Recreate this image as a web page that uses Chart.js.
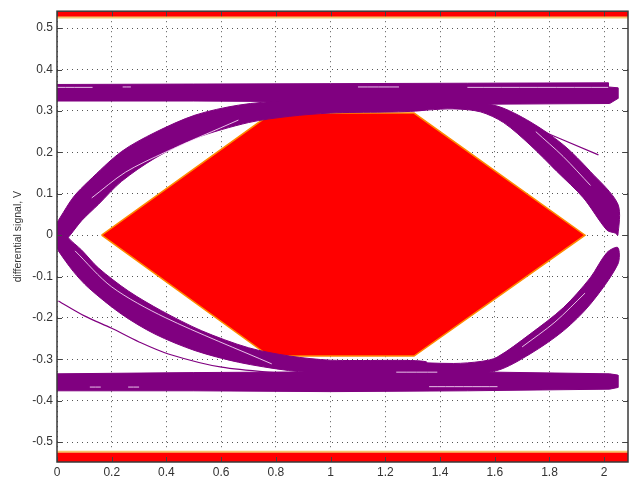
<!DOCTYPE html>
<html>
<head>
<meta charset="utf-8">
<script src="https://cdn.jsdelivr.net/npm/chart.js@4/dist/chart.umd.min.js"></script>
<style>
html,body{margin:0;padding:0;background:#fff;}
canvas{display:block;}
</style>
</head>
<body>
<canvas id="c" width="644" height="480"></canvas>
<script>
// ---- axis ranges and ticks ----
const xRange = [0, 2.087];
const yRange = [-0.548, 0.541];
const xTicks = [0, 0.2, 0.4, 0.6, 0.8, 1, 1.2, 1.4, 1.6, 1.8, 2];
const yTicks = [-0.5, -0.4, -0.3, -0.2, -0.1, 0, 0.1, 0.2, 0.3, 0.4, 0.5];
const yTitle = 'differential signal, V';

// ---- red limit bands (y level of their inner edge) ----
const upperLimit = 0.526;
const lowerLimit = -0.523;

// ---- eye mask (hexagon) ----
const eyeMask = [[0.163,0],[0.785,0.295],[1.305,0.295],[1.93,0],[1.305,-0.292],[0.775,-0.292]];

// ---- purple trace envelopes (outline points) ----
const upperRail = [[0,0.364],[0.5,0.365],[1.0,0.366],[1.5,0.367],[2.015,0.368],[2.015,0.358],[2.05,0.356],[2.05,0.33],[2.02,0.318],[1.5,0.316],[1.0,0.322],[0.5,0.324],[0,0.324]];
const lowerRail = [[0,-0.335],[0.5,-0.332],[1.0,-0.330],[1.5,-0.330],[2.02,-0.335],[2.05,-0.338],[2.05,-0.368],[2.02,-0.372],[1.5,-0.376],[1.0,-0.378],[0.5,-0.376],[0,-0.376]];
const risingLeft = [[0,0.03],[0.011,0.042],[0.06,0.092],[0.115,0.13],[0.236,0.202],[0.358,0.248],[0.505,0.29],[0.663,0.314],[0.845,0.326],[1.0,0.33],[1.2,0.332],
                    [1.35,0.303],[1.0,0.295],[0.85,0.287],[0.7,0.272],[0.505,0.234],[0.358,0.186],[0.236,0.13],[0.151,0.074],[0.09,0.035],[0.048,0.0],[0.02,-0.02],[0,-0.03]];
const fallingLeft = [[0,-0.03],[0.005,-0.038],[0.06,-0.088],[0.115,-0.127],[0.236,-0.191],[0.358,-0.239],[0.505,-0.279],[0.663,-0.307],[0.846,-0.327],[1.0,-0.335],[1.2,-0.336],
                     [1.35,-0.306],[1.0,-0.302],[0.85,-0.292],[0.7,-0.272],[0.529,-0.231],[0.383,-0.183],[0.261,-0.135],[0.151,-0.079],[0.09,-0.036],[0.041,-0.006],[0.02,0.02],[0,0.03]];
const fallingRight = [[1.2,0.332],[1.45,0.326],[1.608,0.312],[1.729,0.274],[1.851,0.218],[1.949,0.154],[2.05,0.075],[2.05,0.0],[2.04,0.005],[2.01,0.012],
                      [1.924,0.09],[1.827,0.154],[1.729,0.218],[1.632,0.272],[1.547,0.298],[1.45,0.305],[1.25,0.303]];
const risingRight = [[1.25,-0.306],[1.45,-0.31],[1.55,-0.305],[1.608,-0.295],[1.729,-0.239],[1.851,-0.175],[1.949,-0.103],[2.01,-0.042],[2.05,-0.03],
                     [2.05,-0.07],[1.949,-0.167],[1.851,-0.231],[1.729,-0.287],[1.608,-0.327],[1.45,-0.336],[1.2,-0.336]];

// ---- single stray traces ----
const strayLeft = [[0.005,-0.159],[0.1,-0.195],[0.2,-0.225],[0.3,-0.258],[0.407,-0.287],[0.602,-0.319],[0.846,-0.335]];
const strayRight = [[1.70,0.272],[1.979,0.194]];

// ---- light gaps between traces ----
const gaps = [
  [[0,0.357],[0.13,0.357]],
  [[0.24,0.358],[0.27,0.358]],
  [[1.10,0.358],[1.25,0.358]],
  [[1.50,0.357],[2.015,0.357]],
  [[0.12,-0.367],[0.16,-0.367]],
  [[0.26,-0.367],[0.30,-0.367]],
  [[1.36,-0.366],[1.61,-0.366]],
  [[1.24,-0.331],[1.39,-0.331]],
  [[0.127,0.09],[0.25,0.152],[0.395,0.2],[0.663,0.278]],
  [[0.066,-0.038],[0.2,-0.125],[0.395,-0.199],[0.785,-0.311]],
  [[1.75,0.25],[1.85,0.19],[1.95,0.12]],
  [[1.70,-0.27],[1.82,-0.21],[1.93,-0.14]]
];

const PURPLE = '#800080';
const toXY = a => a.map(p => ({x: p[0], y: p[1]}));
const closed = a => toXY(a.concat([a[0]]));

const datasets = [];
// limit bands
datasets.push({data: toXY([[xRange[0], upperLimit],[xRange[1], upperLimit]]), fill: 'end',
  backgroundColor: '#ff0000', borderColor: '#f7c56a', borderWidth: 2, order: 10, tension: 0});
datasets.push({data: toXY([[xRange[0], lowerLimit],[xRange[1], lowerLimit]]), fill: 'start',
  backgroundColor: '#ff0000', borderColor: '#f7c56a', borderWidth: 2, order: 10, tension: 0});
// mask
datasets.push({data: closed(eyeMask), fill: 'shape', backgroundColor: '#ff0000',
  borderColor: '#ff8a00', borderWidth: 1.5, order: 9, tension: 0});
// purple envelopes
[upperRail, lowerRail].forEach(poly => {
  datasets.push({data: closed(poly), fill: 'shape', backgroundColor: PURPLE,
    borderColor: PURPLE, borderWidth: 1, order: 5, tension: 0});
});
[risingLeft, fallingLeft, fallingRight, risingRight].forEach(poly => {
  datasets.push({data: closed(poly), fill: 'shape', backgroundColor: PURPLE,
    borderColor: PURPLE, borderWidth: 1, order: 5, tension: 0.3});
});
// stray traces
[strayLeft, strayRight].forEach(line => {
  datasets.push({data: toXY(line), fill: false, borderColor: PURPLE, borderWidth: 1.2, order: 3, tension: 0.3});
});
// gaps
gaps.forEach(line => {
  datasets.push({data: toXY(line), fill: false, borderColor: 'rgba(250,225,250,0.85)', borderWidth: 1, order: 1, tension: 0.3});
});
datasets.forEach(d => { d.showLine = true; d.pointRadius = 0; });

const fmt = v => String(+Number(v).toFixed(2));

const framePlugin = {
  id: 'frame',
  afterDatasetsDraw(chart) {
    const {ctx, chartArea: a, scales} = chart;
    ctx.save();
    ctx.strokeStyle = '#444';
    ctx.lineWidth = 1;
    ctx.beginPath();
    xTicks.forEach(v => {
      const px = Math.round(scales.x.getPixelForValue(v)) + 0.5;
      ctx.moveTo(px, a.bottom); ctx.lineTo(px, a.bottom - 5);
      ctx.moveTo(px, a.top); ctx.lineTo(px, a.top + 5);
    });
    yTicks.forEach(v => {
      const py = Math.round(scales.y.getPixelForValue(v)) + 0.5;
      ctx.moveTo(a.left, py); ctx.lineTo(a.left + 5, py);
      ctx.moveTo(a.right, py); ctx.lineTo(a.right - 5, py);
    });
    ctx.stroke();
    ctx.lineWidth = 1.5;
    ctx.strokeStyle = '#3a3a3a';
    ctx.strokeRect(a.left, a.top, a.right - a.left, a.bottom - a.top);
    ctx.restore();
  }
};

new Chart(document.getElementById('c'), {
  type: 'scatter',
  data: {datasets},
  options: {
    responsive: false,
    animation: false,
    devicePixelRatio: 1,
    layout: {padding: {left: 0, top: 9, right: 16, bottom: 0}},
    plugins: {legend: {display: false}, tooltip: {enabled: false}},
    scales: {
      x: {
        type: 'linear', min: xRange[0], max: xRange[1],
        afterBuildTicks: s => { s.ticks = xTicks.map(v => ({value: v})); },
        afterFit: s => { s.height = 18; },
        ticks: {callback: v => fmt(v), font: {family: 'Liberation Sans', size: 12}, color: '#333', padding: 3, maxRotation: 0, autoSkip: false},
        grid: {color: '#555', lineWidth: 1, drawTicks: false},
        border: {display: false, dash: [1, 4]}
      },
      y: {
        type: 'linear', min: yRange[0], max: yRange[1],
        afterBuildTicks: s => { s.ticks = yTicks.map(v => ({value: v})); },
        afterFit: s => { s.width = 57; },
        ticks: {callback: v => fmt(v), font: {family: 'Liberation Sans', size: 12}, color: '#333', padding: 4, autoSkip: false},
        grid: {color: '#555', lineWidth: 1, drawTicks: false},
        border: {display: false, dash: [1, 4]},
        title: {display: true, text: yTitle, font: {family: 'Liberation Sans', size: 10.5}, color: '#333', padding: {top: 12, bottom: 0}}
      }
    }
  },
  plugins: [framePlugin]
});
</script>
</body>
</html>
